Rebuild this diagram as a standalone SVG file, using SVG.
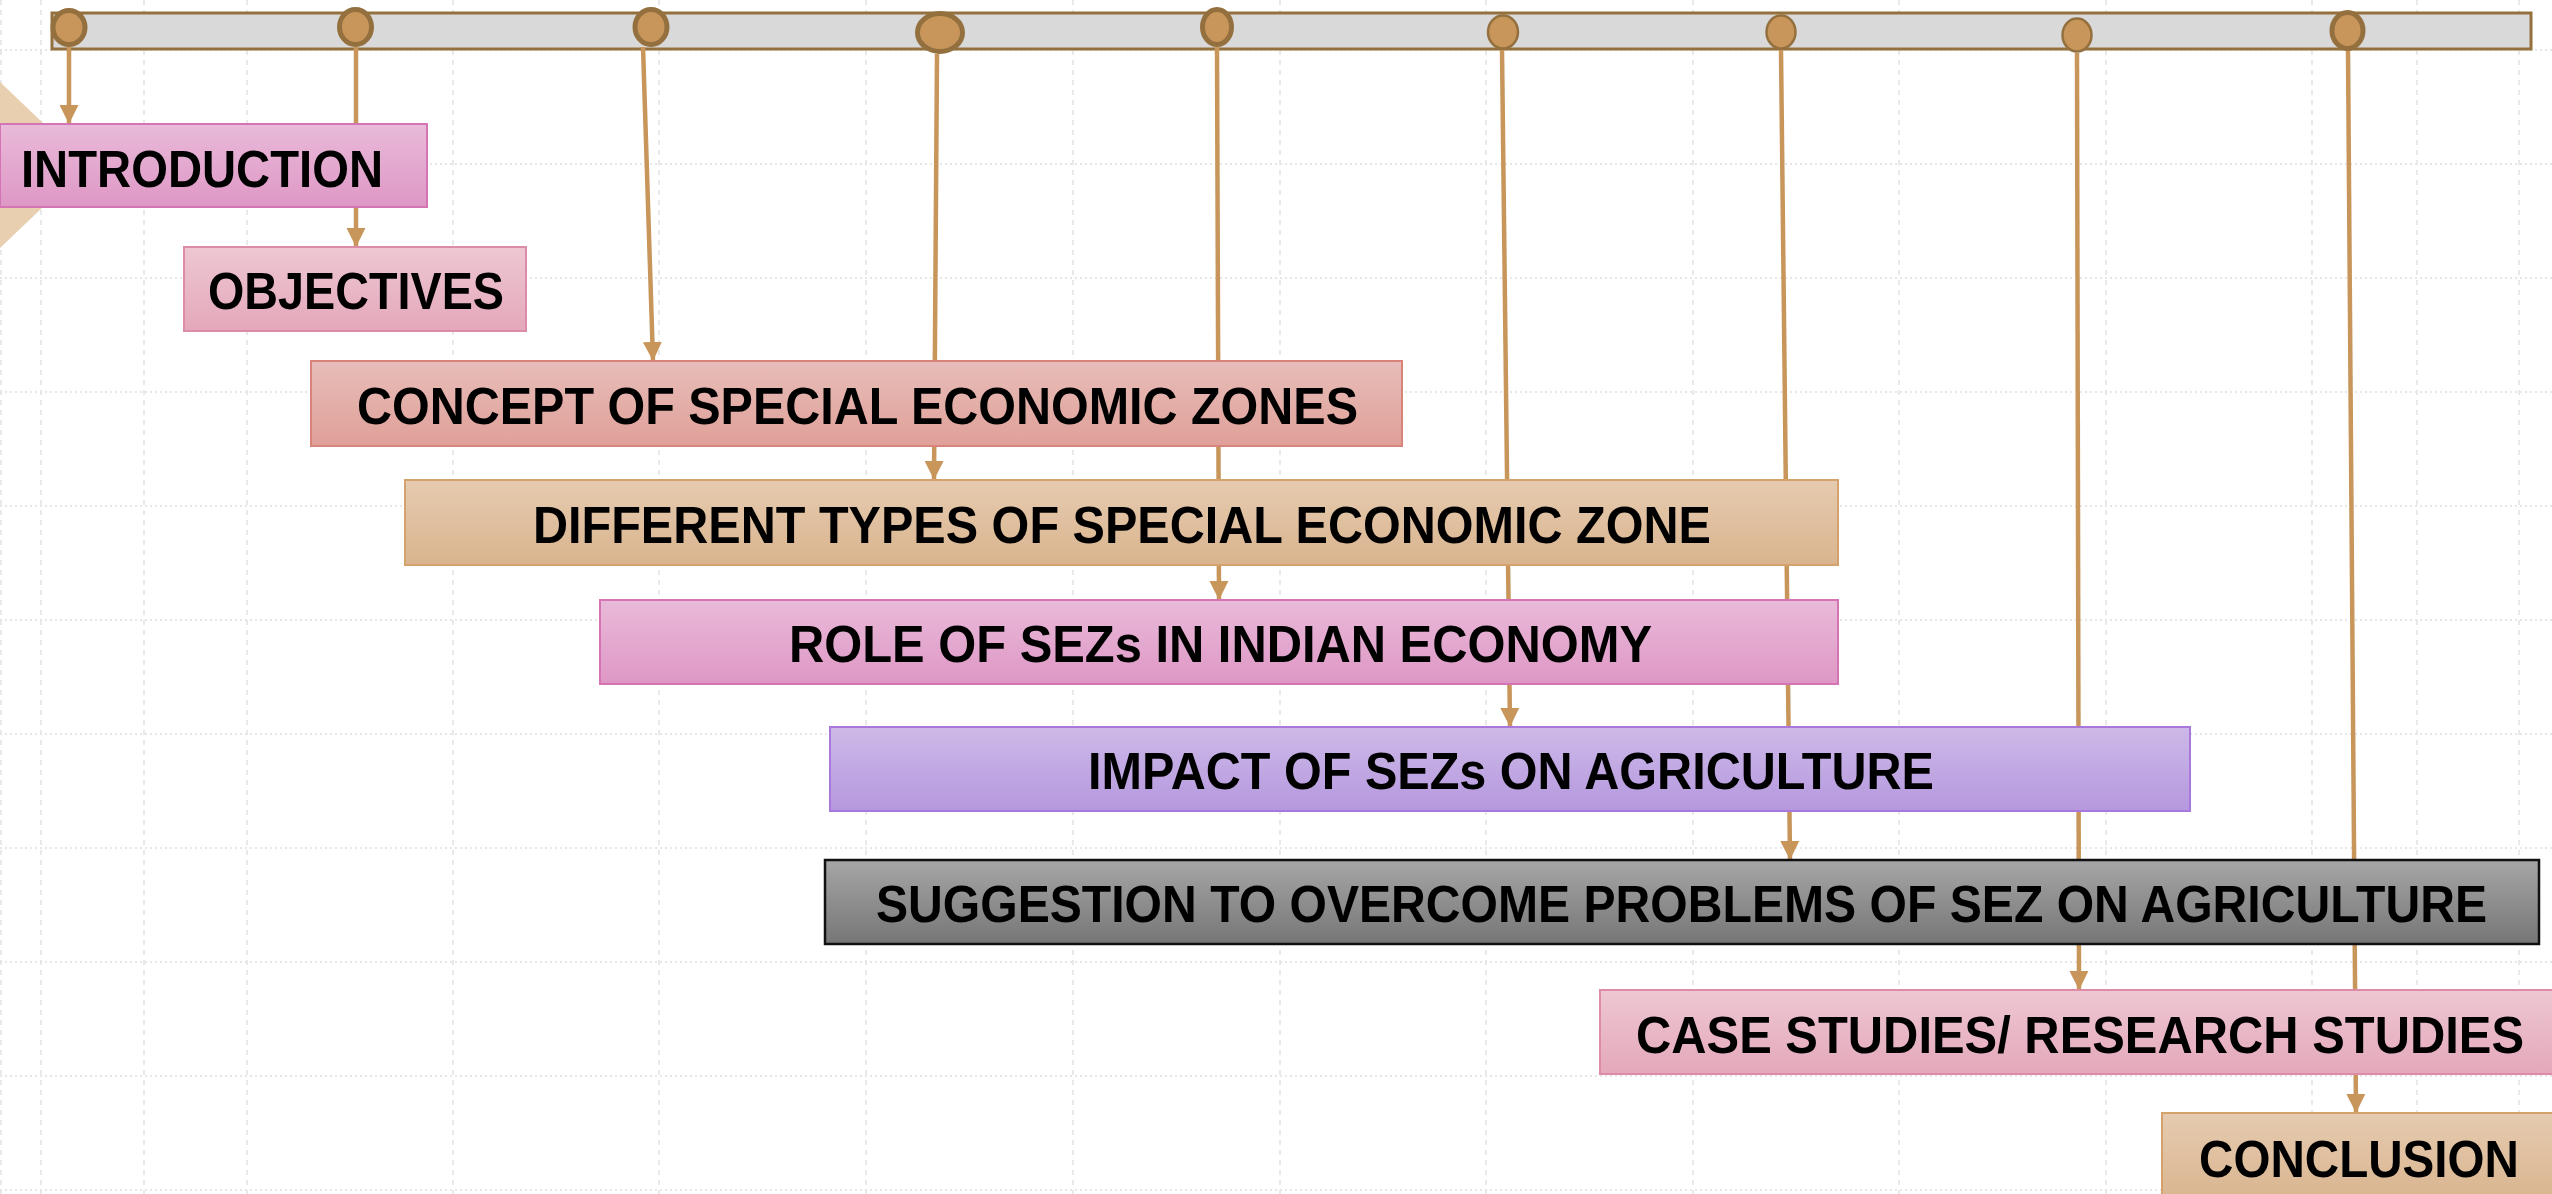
<svg xmlns="http://www.w3.org/2000/svg" width="2552" height="1194" viewBox="0 0 2552 1194">
<style>
.gh{stroke:#dedede;stroke-width:1.5;stroke-dasharray:2 3;fill:none}
.gv{stroke:#e2e2e2;stroke-width:1.5;stroke-dasharray:5 5;fill:none}
.con{stroke:#c8965a;stroke-width:4.5;fill:none;marker-end:url(#ah)}
.dot{fill:#c8965a;stroke:#94703f;stroke-width:5}
.dotl{fill:#c8965a;stroke:#94703f;stroke-width:2.5}
.lbl{font-family:"Liberation Sans",Arial,sans-serif;font-weight:bold;font-size:52px;fill:#000}
</style>
<defs>
<marker id="ah" markerUnits="userSpaceOnUse" markerWidth="20" markerHeight="20" refX="19" refY="10" orient="auto">
<path d="M0,0.5 L19,10 L0,19.5 z" fill="#c8965a"/>
</marker>
<linearGradient id="gPink" x1="0" y1="0" x2="0" y2="1"><stop offset="0" stop-color="#e9bad9"/><stop offset="1" stop-color="#de97c5"/></linearGradient>
<linearGradient id="gLPink" x1="0" y1="0" x2="0" y2="1"><stop offset="0" stop-color="#eec7d2"/><stop offset="1" stop-color="#e4a8ba"/></linearGradient>
<linearGradient id="gSalmon" x1="0" y1="0" x2="0" y2="1"><stop offset="0" stop-color="#e8bdb9"/><stop offset="1" stop-color="#dfa098"/></linearGradient>
<linearGradient id="gTan" x1="0" y1="0" x2="0" y2="1"><stop offset="0" stop-color="#e6cbb0"/><stop offset="1" stop-color="#d9b48e"/></linearGradient>
<linearGradient id="gLav" x1="0" y1="0" x2="0" y2="1"><stop offset="0" stop-color="#cdb9e8"/><stop offset="1" stop-color="#b598de"/></linearGradient>
<linearGradient id="gGrey" x1="0" y1="0" x2="0" y2="1"><stop offset="0" stop-color="#a6a6a6"/><stop offset="1" stop-color="#767676"/></linearGradient>
</defs>
<rect x="0" y="0" width="2552" height="1194" fill="#ffffff"/>
<g id="grid">
<path class="gh" d="M0,50H2552M0,164H2552M0,278H2552M0,392H2552M0,506H2552M0,620H2552M0,734H2552M0,848H2552M0,962H2552M0,1076H2552M0,1190H2552"/>
<path class="gv" d="M1,0V1194M41,0V1194M144,0V1194M247,0V1194M453,0V1194M659,0V1194M866,0V1194M1073,0V1194M1280,0V1194M1486,0V1194M1693,0V1194M1899,0V1194M2106,0V1194M2312,0V1194M2417,0V1194M2519,0V1194"/>
</g>
<polygon id="deco" points="0,82 87,165 0,248" fill="#e8cfb0"/>
<rect id="bar" x="52" y="13" width="2479" height="36" fill="#d9d9d9" stroke="#94703f" stroke-width="3"/>
<g id="connectors">
<line class="con" x1="69" y1="47" x2="69" y2="124"/>
<line class="con" x1="356" y1="47" x2="356" y2="247"/>
<line class="con" x1="643" y1="47" x2="653" y2="361"/>
<line class="con" x1="937" y1="54" x2="934" y2="480"/>
<line class="con" x1="1217" y1="47" x2="1219" y2="600"/>
<line class="con" x1="1502" y1="50" x2="1510" y2="727"/>
<line class="con" x1="1781" y1="50" x2="1790" y2="860"/>
<line class="con" x1="2077" y1="53" x2="2079" y2="990"/>
<line class="con" x1="2348" y1="49" x2="2356" y2="1113"/>
</g>
<g id="milestones">
<ellipse class="dot" cx="69" cy="27.5" rx="16" ry="17"/>
<ellipse class="dot" cx="355.5" cy="27" rx="16" ry="17.5"/>
<ellipse class="dot" cx="651" cy="27" rx="16" ry="17.5"/>
<ellipse class="dot" cx="940" cy="32.5" rx="22.5" ry="19"/>
<ellipse class="dot" cx="1217" cy="27" rx="14.5" ry="17.5"/>
<ellipse class="dotl" cx="1503" cy="32" rx="15" ry="16.5"/>
<ellipse class="dotl" cx="1781" cy="32" rx="14.5" ry="16.5"/>
<ellipse class="dotl" cx="2077" cy="35" rx="14.5" ry="16.5"/>
<ellipse class="dot" cx="2347.5" cy="30.5" rx="15.5" ry="18"/>
</g>
<g id="introduction">
<rect x="0" y="124" width="427" height="83" fill="url(#gPink)" stroke="#d474b4" stroke-width="2"/>
<text class="lbl" x="21" y="187" textLength="362" lengthAdjust="spacingAndGlyphs">INTRODUCTION</text>
</g>
<g id="objectives">
<rect x="184" y="247" width="342" height="84" fill="url(#gLPink)" stroke="#dc8ca8" stroke-width="2"/>
<text class="lbl" x="208" y="309" textLength="296" lengthAdjust="spacingAndGlyphs">OBJECTIVES</text>
</g>
<g id="concept">
<rect x="311" y="361" width="1091" height="85" fill="url(#gSalmon)" stroke="#d8847a" stroke-width="2"/>
<text class="lbl" x="357" y="424" textLength="1001" lengthAdjust="spacingAndGlyphs">CONCEPT OF SPECIAL ECONOMIC ZONES</text>
</g>
<g id="types">
<rect x="405" y="480" width="1433" height="85" fill="url(#gTan)" stroke="#d4a26c" stroke-width="2"/>
<text class="lbl" x="533" y="543" textLength="1178" lengthAdjust="spacingAndGlyphs">DIFFERENT TYPES OF SPECIAL ECONOMIC ZONE</text>
</g>
<g id="role">
<rect x="600" y="600" width="1238" height="84" fill="url(#gPink)" stroke="#d474b4" stroke-width="2"/>
<text class="lbl" x="789" y="662" textLength="863" lengthAdjust="spacingAndGlyphs">ROLE OF SEZs IN INDIAN ECONOMY</text>
</g>
<g id="impact">
<rect x="830" y="727" width="1360" height="84" fill="url(#gLav)" stroke="#a878dc" stroke-width="2"/>
<text class="lbl" x="1088" y="789" textLength="846" lengthAdjust="spacingAndGlyphs">IMPACT OF SEZs ON AGRICULTURE</text>
</g>
<g id="suggestion">
<rect x="825" y="860" width="1714" height="84" fill="url(#gGrey)" stroke="#111111" stroke-width="2.5"/>
<text class="lbl" x="876" y="922" textLength="1611" lengthAdjust="spacingAndGlyphs">SUGGESTION TO OVERCOME PROBLEMS OF SEZ ON AGRICULTURE</text>
</g>
<g id="casestudies">
<rect x="1600" y="990" width="960" height="84" fill="url(#gLPink)" stroke="#dc8ca8" stroke-width="2"/>
<text class="lbl" x="1636" y="1053" textLength="888" lengthAdjust="spacingAndGlyphs">CASE STUDIES/ RESEARCH STUDIES</text>
</g>
<g id="conclusion">
<rect x="2162" y="1113" width="400" height="90" fill="url(#gTan)" stroke="#d4a26c" stroke-width="2"/>
<text class="lbl" x="2199" y="1177" textLength="320" lengthAdjust="spacingAndGlyphs">CONCLUSION</text>
</g>
</svg>
